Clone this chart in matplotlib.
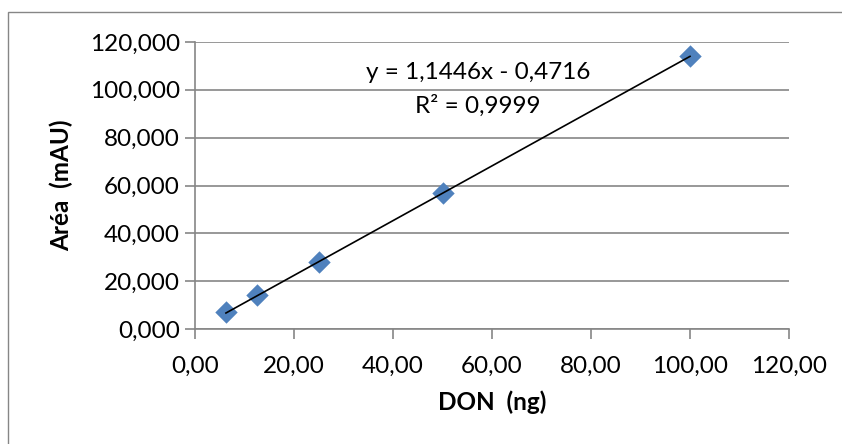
import matplotlib.pyplot as plt
import matplotlib.patches as patches
import numpy as np

plt.rcParams['font.family'] = ['Lato', 'DejaVu Sans']

# Calibration data
don_ng = [6.25, 12.5, 25.0, 50.0, 100.0]
area_mau = [7.1, 14.1, 28.2, 56.9, 114.2]

slope = 1.1446
intercept = -0.4716
r_squared = 0.9999

x_ticks = [0, 20, 40, 60, 80, 100, 120]
y_ticks = [0, 20, 40, 60, 80, 100, 120]

grid_color = '#868686'
marker_color = '#4F81BD'
fs = 17.5

fig = plt.figure(figsize=(8.42, 4.44), dpi=100)
ax = fig.add_axes((195 / 842, 1 - 329 / 444, (789 - 195) / 842, (329 - 42) / 444))

# Chart border (Excel style)
fig.patches.append(patches.Rectangle((8 / 842, -0.01), 1.0, 1 - 12 / 444 + 0.01,
                                     transform=fig.transFigure, fill=False,
                                     edgecolor=grid_color, linewidth=1.0))

ax.scatter(don_ng, area_mau, marker='D', s=130, color=marker_color, zorder=3, linewidths=0)

# Trend line over the data range
fit_x = np.array([min(don_ng), max(don_ng)])
ax.plot(fit_x, slope * fit_x + intercept, color='black', linewidth=1.2, zorder=4)

ax.set_xlim(0, 120)
ax.set_ylim(0, 120)
ax.set_xticks(x_ticks)
ax.set_yticks(y_ticks)
ax.set_xticklabels([f'{v:.2f}'.replace('.', ',') for v in x_ticks])
ax.set_yticklabels([f'{v:.3f}'.replace('.', ',') for v in y_ticks])

ax.grid(axis='y', color=grid_color, linewidth=1.2)
ax.set_axisbelow(True)
for side in ['top', 'right']:
    ax.spines[side].set_visible(False)
for side in ['left', 'bottom']:
    ax.spines[side].set_color(grid_color)
    ax.spines[side].set_linewidth(1.2)

ax.tick_params(axis='both', colors=grid_color, length=7, width=1.2, labelsize=fs,
               labelcolor='black')
ax.tick_params(axis='x', pad=12)
ax.tick_params(axis='y', pad=4)

ax.set_xlabel('DON  (ng)', fontsize=fs, fontweight='bold', labelpad=10)
ax.set_ylabel('Aréa  (mAU)', fontsize=fs, fontweight='bold', labelpad=12)

eq_text = f'y = {slope:.4f}x - {abs(intercept):.4f}'.replace('.', ',')
r2_text = f'R² = {r_squared:.4f}'.replace('.', ',')
ax.text(57.2, 107.3, eq_text, fontsize=fs, ha='center', va='center')
ax.text(57.2, 93.5, r2_text, fontsize=fs, ha='center', va='center')

fig.savefig('out.png', dpi=100)
